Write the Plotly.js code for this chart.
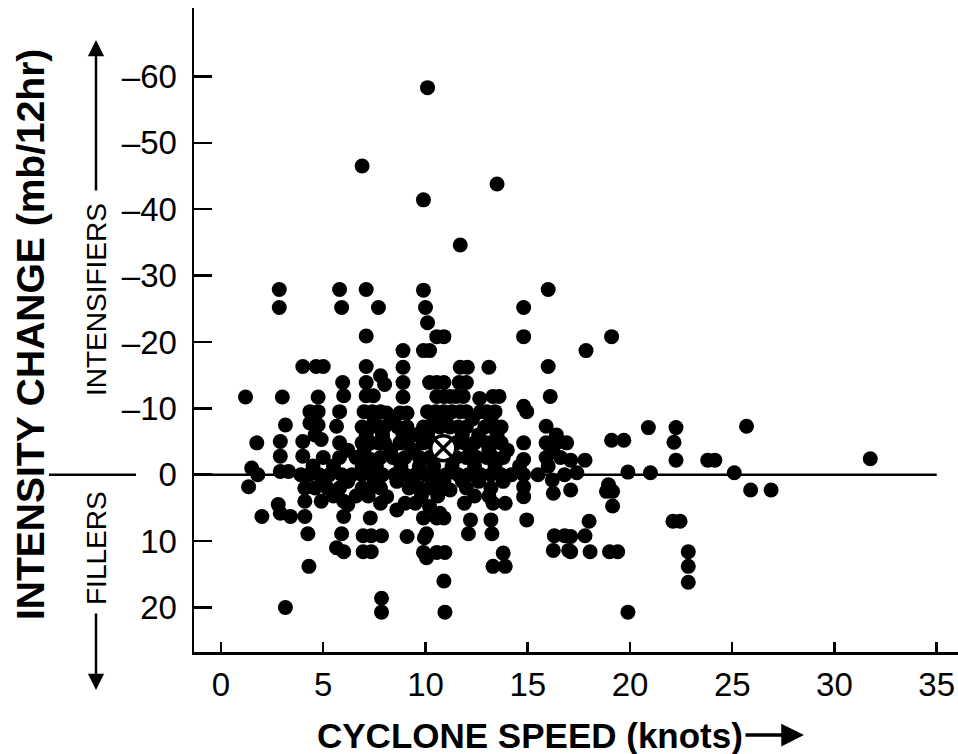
<!DOCTYPE html>
<html><head><meta charset="utf-8">
<script src="https://cdn.plot.ly/plotly-3.0.1.min.js"></script>
<style>html,body{margin:0;padding:0;background:#fff}#chart{width:958px;height:754px}</style>
</head><body><div id="chart"></div>
<script>
// Cyclone speed (knots) and intensity change (mb/12hr)
const speed = [
10.1,6.9,13.5,9.9,11.7,
2.85,5.8,7.1,9.9,16.0,
2.85,5.9,7.7,10.0,14.8,
10.1,
7.1,10.55,10.9,14.8,19.1,
8.9,9.9,10.2,17.85,
4.0,4.65,5.0,7.1,8.9,11.7,12.05,13.1,16.0,
5.95,7.1,7.8,8.0,8.9,10.2,10.55,10.9,11.65,12.0,
1.2,3.0,4.75,6.0,7.1,7.45,8.9,10.55,10.9,11.2,11.5,11.85,12.65,13.3,13.6,16.1,14.8,
4.35,4.75,5.8,7.0,7.4,7.8,8.1,8.75,9.1,10.1,10.5,10.9,11.3,11.7,12.0,12.7,13.0,13.4,14.95,
7.5,8.3,10.4,11.0,12.3,13.2,
3.15,4.35,4.75,5.65,6.9,7.3,7.7,8.0,8.65,9.1,9.9,10.3,10.7,11.2,11.6,12.0,12.9,13.3,13.7,15.9,20.9,22.25,25.7,
4.6,7.1,7.9,8.9,9.5,10.1,11.8,12.6,13.5,16.4,
1.75,2.9,4.0,4.9,5.8,6.9,7.3,7.7,8.0,8.75,9.1,9.9,10.3,11.5,11.9,12.4,13.0,13.3,13.7,14.8,15.9,16.4,16.9,19.1,19.7,22.15,
6.2,7.0,8.3,9.4,12.2,13.1,14.0,16.2,
2.9,4.0,5.0,5.8,6.6,7.3,7.8,8.4,9.0,9.7,10.2,11.5,12.0,12.5,13.0,13.3,13.8,14.8,15.9,16.6,17.1,17.8,22.25,23.8,24.15,31.75,
4.5,5.5,6.9,7.6,8.8,9.7,10.4,11.3,12.4,13.4,14.6,16.0,
1.5,1.8,2.9,3.3,3.9,4.3,4.8,5.3,5.9,6.4,6.9,7.4,7.9,8.5,9.0,9.5,10.0,10.5,11.0,11.6,12.1,12.7,13.2,13.7,14.2,14.8,15.5,16.2,16.8,17.4,19.9,21.0,25.1,
5.0,6.2,7.5,8.6,9.4,10.4,10.9,11.8,12.6,13.8,
1.35,4.1,4.6,5.2,5.8,6.9,7.3,7.8,8.1,9.2,9.7,10.2,10.55,11.2,12.0,13.2,14.8,16.25,17.1,18.95,18.85,19.15,25.9,26.9,
5.5,6.6,7.2,9.8,10.6,12.4,13.1,
2.8,4.1,4.9,6.0,6.2,7.8,8.6,9.0,9.5,10.2,10.7,11.9,13.3,13.9,14.8,19.15,
2.0,2.9,3.4,4.1,6.0,7.3,9.9,10.55,10.9,12.2,13.2,14.95,18.0,22.1,22.45,
4.25,5.9,6.95,7.35,7.85,9.1,9.95,10.05,12.1,13.25,16.3,16.8,17.1,17.8,
5.65,6.0,6.95,7.35,9.9,10.05,10.55,10.95,13.8,16.25,17.0,17.1,18.05,19.0,19.4,22.85,
4.3,13.3,13.9,22.85,
10.9,22.85,7.85,3.15,7.85,10.95,19.9
];
const change = [
-58.3,-46.5,-43.8,-41.4,-34.6,
-27.9,-27.9,-27.9,-27.8,-27.9,
-25.2,-25.2,-25.2,-25.2,-25.2,
-22.9,
-20.9,-20.8,-20.8,-20.8,-20.8,
-18.7,-18.7,-18.7,-18.7,
-16.3,-16.3,-16.3,-16.3,-16.2,-16.2,-16.2,-16.2,-16.3,
-13.9,-13.9,-14.9,-13.6,-13.9,-13.9,-13.9,-13.9,-13.9,-13.9,
-11.7,-11.7,-11.7,-11.9,-11.9,-11.9,-11.7,-11.8,-11.8,-11.8,-11.8,-11.8,-11.5,-11.8,-11.8,-11.8,-10.3,
-9.5,-9.5,-9.5,-9.5,-9.5,-9.5,-9.3,-9.3,-9.3,-9.5,-9.5,-9.5,-9.5,-9.5,-9.5,-9.5,-9.5,-9.5,-9.5,
-8.4,-8.4,-8.4,-8.4,-8.4,-8.4,
-7.5,-7.8,-7.5,-7.3,-7.2,-7.2,-7.2,-7.2,-7.2,-7.2,-7.2,-7.2,-7.2,-7.2,-7.2,-7.2,-7.2,-7.2,-7.2,-7.3,-7.1,-7.1,-7.3,
-6.0,-6.0,-6.0,-6.0,-6.0,-6.0,-6.0,-6.0,-6.0,-6.0,
-4.8,-5.0,-5.0,-5.3,-4.8,-4.8,-4.8,-4.8,-4.8,-4.8,-4.8,-4.8,-4.8,-4.8,-4.8,-4.8,-4.8,-4.8,-4.8,-4.8,-4.8,-4.8,-4.8,-5.2,-5.2,-4.9,
-3.7,-3.7,-3.7,-3.7,-3.7,-3.7,-3.7,-3.7,
-2.8,-2.8,-2.6,-2.6,-2.6,-2.3,-2.6,-2.6,-2.6,-2.6,-2.6,-2.6,-2.6,-2.6,-2.6,-2.6,-2.6,-2.3,-2.6,-2.6,-2.2,-2.2,-2.2,-2.2,-2.2,-2.4,
-1.3,-1.3,-1.3,-1.3,-1.3,-1.3,-1.3,-1.3,-1.3,-1.3,-1.3,-1.3,
-1.0,0,-0.5,-0.5,0,0,0,0,0,0,0,0,0,0,0,0,0,0,0,0,0,0,0,0,0,0,0,0.8,0,-0.3,-0.4,-0.3,-0.3,
1.0,1.0,1.0,1.0,1.0,1.0,1.0,1.0,1.0,1.0,
1.8,2.0,2.0,2.0,2.0,2.0,2.0,2.0,3.3,2.0,2.0,2.0,2.3,2.3,2.0,2.0,1.8,2.8,2.3,1.5,2.5,2.5,2.3,2.3,
3.2,3.2,3.2,3.2,3.2,3.2,3.2,
4.5,4.0,4.0,4.0,4.5,4.3,5.3,4.3,4.3,4.8,5.8,4.3,4.3,4.3,3.3,4.7,
6.3,5.8,6.3,6.3,6.3,6.5,6.5,6.5,6.5,6.8,6.8,6.8,7.0,7.0,7.0,
8.9,8.9,9.2,9.2,9.2,9.3,9.5,8.9,8.9,8.9,9.2,9.2,9.3,9.2,
11.0,11.6,11.6,11.6,11.7,12.5,11.7,11.7,11.8,11.4,11.4,11.6,11.6,11.6,11.6,11.6,
13.8,13.8,13.8,13.8,
16.0,16.2,18.6,20.0,20.7,20.7,20.7
];
// mean point (circled cross)
const meanSpeed = [10.87];
const meanChange = [-4.0];

const xTicks = [0,5,10,15,20,25,30,35];
const yTicks = [-60,-50,-40,-30,-20,-10,0,10,20];
const yTickText = ['–60','–50','–40','–30','–20','–10','0','10','20'];
const xRange = [-1.32, 36.04];
const yRange = [26.7, -70.3];

const W = 958, H = 754, L = 194, T = 8, B = 102, R = 0;
const pw = W - L - R, ph = H - T - B;
const px = v => (v - L) / pw;
const py = v => (H - B - v) / ph;
const yZeroPaper = (yRange[0] - 0) / (yRange[0] - yRange[1]);

const FONT = 'Liberation Sans, Arial, sans-serif';

const traces = [
  {type:'scatter', mode:'markers', x:speed, y:change,
   marker:{color:'#000', size:15, line:{width:0}}, hoverinfo:'x+y', cliponaxis:false},
  {type:'scatter', mode:'markers', x:meanSpeed, y:meanChange,
   marker:{symbol:'circle-x', color:'#fff', size:25, line:{color:'#000', width:3.5}}, cliponaxis:false}
];

const layout = {
  width: W, height: H,
  margin:{l:L, r:R, t:T, b:B, pad:0},
  paper_bgcolor:'#fff', plot_bgcolor:'#fff',
  showlegend:false,
  font:{family:FONT, color:'#000'},
  xaxis:{range:xRange, tickvals:xTicks, ticks:'inside', ticklen:10, tickwidth:2.5, tickcolor:'#000',
    showline:true, linewidth:2.5, linecolor:'#000', showgrid:false, zeroline:false,
    tickfont:{family:FONT, size:33, color:'#000'}, ticklabelstandoff:2},
  yaxis:{range:yRange, tickvals:yTicks, ticktext:yTickText, ticks:'inside', ticklen:18, tickwidth:2.5, tickcolor:'#000',
    showline:true, linewidth:2.5, linecolor:'#000', showgrid:false, zeroline:false,
    tickfont:{family:FONT, size:33, color:'#000'}, ticklabelstandoff:8},
  shapes:[
    {type:'line', xref:'x', yref:'y', x0:xRange[0], x1:35, y0:0, y1:0, line:{color:'#000', width:2.5}, layer:'below'},
    {type:'line', xref:'paper', yref:'paper', x0:px(49), x1:px(136), y0:yZeroPaper, y1:yZeroPaper, line:{color:'#000', width:2.5}}
  ],
  annotations:[
    {xref:'paper', yref:'paper', x:px(30), y:py(335), text:'INTENSITY CHANGE (mb/12hr)', textangle:-90,
     showarrow:false, xanchor:'center', yanchor:'middle', font:{family:FONT, size:39, weight:'bold', color:'#000'}},
    {xref:'paper', yref:'paper', x:px(530), y:py(735), text:'CYCLONE SPEED (knots)',
     showarrow:false, xanchor:'center', yanchor:'middle', font:{family:FONT, size:35, weight:'bold', color:'#000'}},
    {xref:'paper', yref:'paper', x:px(804), y:py(735), text:'', showarrow:true, axref:'pixel', ayref:'pixel',
     ax:-60, ay:0, arrowhead:2, arrowsize:1.3, arrowwidth:3.5, arrowcolor:'#000'},
    {xref:'paper', yref:'paper', x:px(96), y:py(300), text:'INTENSIFIERS', textangle:-90,
     showarrow:false, xanchor:'center', yanchor:'middle', font:{family:FONT, size:28, color:'#000'}},
    {xref:'paper', yref:'paper', x:px(96), y:py(40), text:'', showarrow:true,
     ax:0, ay:152, arrowhead:2, arrowsize:1.3, arrowwidth:2.5, arrowcolor:'#000'},
    {xref:'paper', yref:'paper', x:px(96), y:py(548), text:'FILLERS', textangle:-90,
     showarrow:false, xanchor:'center', yanchor:'middle', font:{family:FONT, size:28, color:'#000'}},
    {xref:'paper', yref:'paper', x:px(96), y:py(690), text:'', showarrow:true,
     ax:0, ay:-78, arrowhead:2, arrowsize:1.3, arrowwidth:2.5, arrowcolor:'#000'}
  ]
};

Plotly.newPlot('chart', traces, layout, {displayModeBar:false, staticPlot:true});
</script>
</body></html>
